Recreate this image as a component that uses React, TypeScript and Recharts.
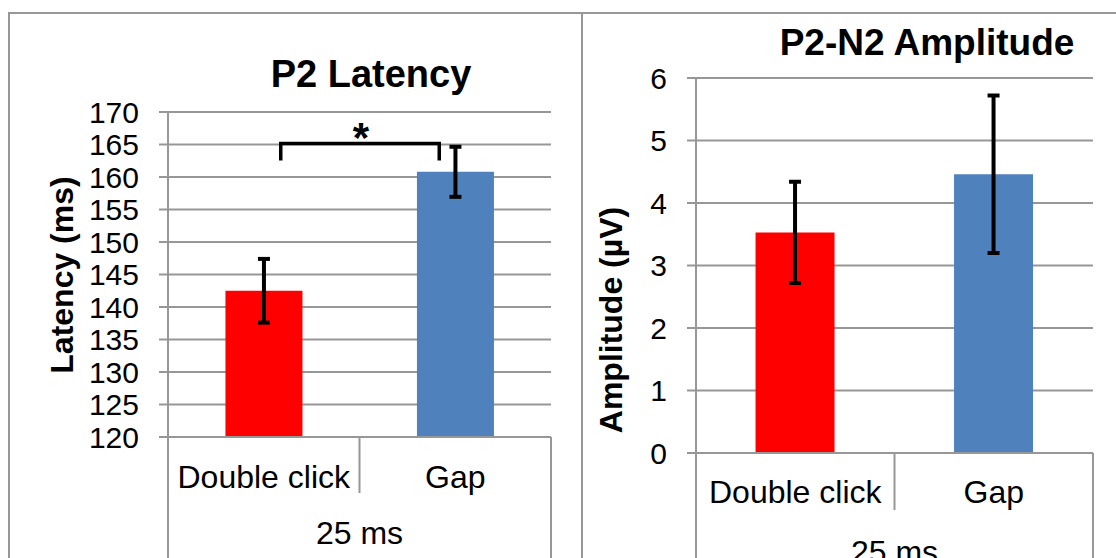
import React from 'react';
import { BarChart, Bar, Cell, XAxis, YAxis, CartesianGrid, ErrorBar, ReferenceLine } from 'recharts';

const categories = ['Double click', 'Gap'];
const groupLabel = '25 ms';
const barColors = ['#FF0000', '#4F81BD'];

const latencyMeans = [142.5, 160.8];
const latencyErr = [4.9, 3.85];
const latencyTicks = [120, 125, 130, 135, 140, 145, 150, 155, 160, 165, 170];

const amplitudeMeans = [3.53, 4.46];
const amplitudeErr = [0.81, 1.26];
const amplitudeTicks = [0, 1, 2, 3, 4, 5, 6];

// significance bracket between the two latency bars
const sigLevel = 165.15;

const latencyData = categories.map((c, i) => ({ name: c, value: latencyMeans[i], err: latencyErr[i] }));
const amplitudeData = categories.map((c, i) => ({ name: c, value: amplitudeMeans[i], err: amplitudeErr[i] }));

const FONT = "'Liberation Sans', Arial, sans-serif";
const GRID = '#979797';
const Y_AXIS_W = 60;

type CatTickOpts = { band: number; labelDy: number; midLen: number; outerLen: number; groupDy: number };

const makeCatTick = (o: CatTickOpts) => (props: any) => {
  const { x, y, payload, index } = props;
  const left = x - o.band / 2;
  const right = x + o.band / 2;
  const last = index === categories.length - 1;
  return (
    <g>
      {index === 0 && <line x1={left} y1={y} x2={left} y2={y + o.outerLen} stroke={GRID} strokeWidth={2} />}
      {!last && <line x1={right} y1={y} x2={right} y2={y + o.midLen} stroke={GRID} strokeWidth={2} />}
      {last && <line x1={right} y1={y} x2={right} y2={y + o.outerLen} stroke={GRID} strokeWidth={2} />}
      <text x={x} y={y + o.labelDy} textAnchor="middle" dominantBaseline="central" fontSize={32} fontFamily={FONT} fill="#000">
        {payload.value}
      </text>
      {last && (
        <text x={left} y={y + o.groupDy} textAnchor="middle" dominantBaseline="central" fontSize={32} fontFamily={FONT} fill="#000">
          {groupLabel}
        </text>
      )}
    </g>
  );
};

const SigBracket = (props: any) => {
  const { x1, y1, x2 } = props;
  const l = x1 + 17;
  const r = x2 - 16;
  return (
    <g>
      <path d={`M${l},${y1 + 17} L${l},${y1} L${r},${y1} L${r},${y1 + 17}`} fill="none" stroke="#000" strokeWidth={3.5} />
      <text x={(l + r) / 2 + 1} y={y1 + 8} textAnchor="middle" fontSize={42} fontWeight="bold" fontFamily={FONT} fill="#000">
        *
      </text>
    </g>
  );
};

const titleStyle = (cx: number, top: number, size: number): React.CSSProperties => ({
  position: 'absolute', left: cx - 220, top, width: 440, textAlign: 'center',
  fontSize: size, lineHeight: 1, fontWeight: 'bold', fontFamily: FONT, color: '#000',
});

const yLabelStyle = (cx: number, cy: number): React.CSSProperties => ({
  position: 'absolute', left: cx - 150, top: cy - 19, width: 300, height: 38, lineHeight: '38px',
  textAlign: 'center', fontSize: 32, fontWeight: 'bold', fontFamily: FONT, color: '#000',
  transform: 'rotate(-90deg)', whiteSpace: 'nowrap',
});

export default function App() {
  // left chart geometry
  const lW = 568, lH = 544;
  const lMargin = { top: 98, right: 27, bottom: 11, left: 98 };
  const lBand = (lW - lMargin.left - lMargin.right - Y_AXIS_W) / categories.length;

  // right chart geometry
  const rW = 533, rH = 544;
  const rMargin = { top: 64, right: 23, bottom: 5, left: 53 };
  const rBand = (rW - rMargin.left - rMargin.right - Y_AXIS_W) / categories.length;

  return (
    <div style={{ position: 'absolute', left: 0, top: 0, width: 1116, height: 558, overflow: 'hidden', background: '#fff' }}>
      <div style={{ position: 'absolute', left: 8, top: 12, width: 575, height: 620, border: `2px solid ${GRID}`, boxSizing: 'border-box' }} />
      <div style={{ position: 'absolute', left: 581, top: 12, width: 620, height: 620, border: `2px solid ${GRID}`, boxSizing: 'border-box' }} />

      <div style={titleStyle(371, 55, 38)}>P2 Latency</div>
      <div style={yLabelStyle(62, 275)}>Latency (ms)</div>
      <div style={{ position: 'absolute', left: 10, top: 14 }}>
        <BarChart width={lW} height={lH} data={latencyData} margin={lMargin} barCategoryGap="30%">
          <CartesianGrid vertical={false} stroke={GRID} strokeWidth={2} />
          <XAxis
            dataKey="name"
            height={110}
            tickSize={0}
            tickMargin={0}
            interval={0}
            axisLine={{ stroke: GRID, strokeWidth: 2 }}
            tickLine={false}
            tick={makeCatTick({ band: lBand, labelDy: 40, midLen: 56, outerLen: 140, groupDy: 96 })}
          />
          <YAxis
            width={Y_AXIS_W}
            domain={[120, 170]}
            ticks={latencyTicks}
            interval={0}
            tickSize={9}
            tickMargin={20}
            axisLine={{ stroke: GRID, strokeWidth: 2 }}
            tickLine={{ stroke: GRID, strokeWidth: 2 }}
            tick={{ fill: '#000', fontSize: 30, fontFamily: FONT }}
          />
          <Bar dataKey="value" isAnimationActive={false}>
            {latencyData.map((d, i) => <Cell key={d.name} fill={barColors[i]} />)}
            <ErrorBar dataKey="err" width={6} strokeWidth={4} stroke="#000" isAnimationActive={false} />
          </Bar>
          <ReferenceLine
            segment={[{ x: categories[0], y: sigLevel }, { x: categories[1], y: sigLevel }]}
            shape={SigBracket}
          />
        </BarChart>
      </div>

      <div style={titleStyle(927, 24, 37)}>P2-N2 Amplitude</div>
      <div style={yLabelStyle(611, 320)}>Amplitude (µV)</div>
      <div style={{ position: 'absolute', left: 583, top: 14 }}>
        <BarChart width={rW} height={rH} data={amplitudeData} margin={rMargin} barCategoryGap="30%">
          <CartesianGrid vertical={false} stroke={GRID} strokeWidth={2} />
          <XAxis
            dataKey="name"
            height={100}
            tickSize={0}
            tickMargin={0}
            interval={0}
            axisLine={{ stroke: GRID, strokeWidth: 2 }}
            tickLine={false}
            tick={makeCatTick({ band: rBand, labelDy: 39, midLen: 57, outerLen: 140, groupDy: 99 })}
          />
          <YAxis
            width={Y_AXIS_W}
            domain={[0, 6]}
            ticks={amplitudeTicks}
            interval={0}
            tickSize={9}
            tickMargin={20}
            axisLine={{ stroke: GRID, strokeWidth: 2 }}
            tickLine={{ stroke: GRID, strokeWidth: 2 }}
            tick={{ fill: '#000', fontSize: 30, fontFamily: FONT }}
          />
          <Bar dataKey="value" isAnimationActive={false}>
            {amplitudeData.map((d, i) => <Cell key={d.name} fill={barColors[i]} />)}
            <ErrorBar dataKey="err" width={6} strokeWidth={4} stroke="#000" isAnimationActive={false} />
          </Bar>
        </BarChart>
      </div>
    </div>
  );
}
